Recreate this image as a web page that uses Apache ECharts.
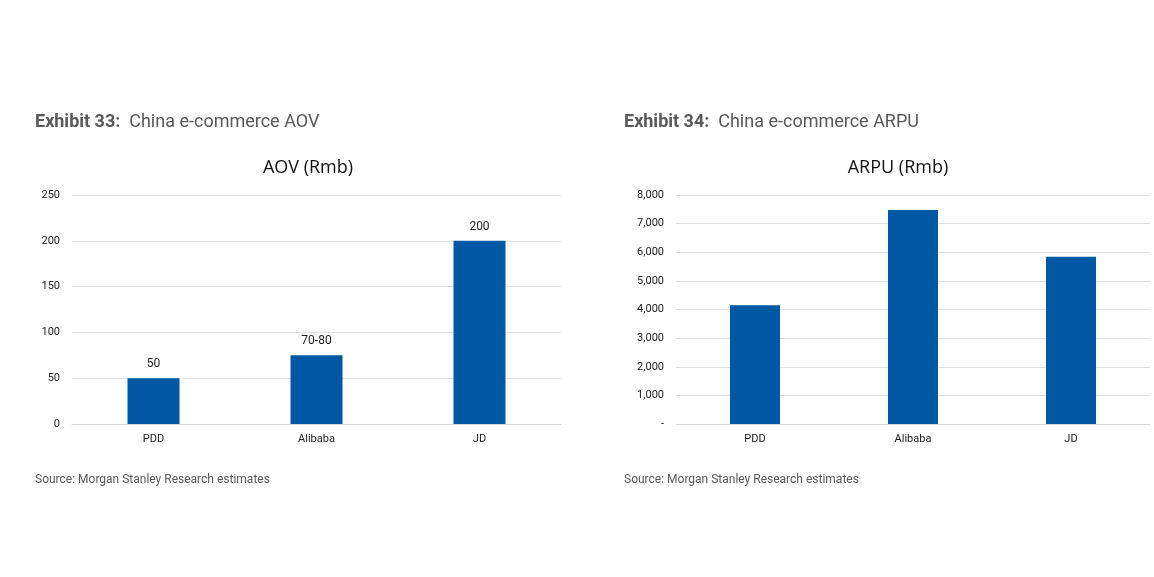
<!DOCTYPE html><html><head><meta charset="utf-8">
<script src="https://cdn.jsdelivr.net/npm/echarts@6/dist/echarts.min.js"></script>
<style>html,body{margin:0;background:#fff}#c{width:1154px;height:577px}</style></head><body><div id="c"></div><script>
const categories=['PDD','Alibaba','JD'];
const aovValues=[50,75,200];
const aovLabels=['50','70-80','200'];
const arpuValues=[4150,7480,5840];
const F='Roboto';
const chart=echarts.init(document.getElementById('c'));
const grey='#595959';
function xa(i){return {type:'category',gridIndex:i,data:categories,axisTick:{show:false},axisLine:{lineStyle:{color:'#d9d9d9'}},axisLabel:{color:'#222',fontSize:11,fontFamily:F,margin:10}};}
function ya(i,max,interval,fmt){return {type:'value',gridIndex:i,min:0,max:max,interval:interval,axisLabel:{color:'#222',fontSize:11,fontFamily:F,formatter:fmt,margin:12},splitLine:{lineStyle:{color:'#e0e0e0'}}};}
chart.setOption({
 animation:false,
 title:[
  {text:'{b|Exhibit 33:}  China e-commerce AOV',left:30,top:108,textStyle:{fontSize:18,fontWeight:'normal',color:grey,fontFamily:F,rich:{b:{fontSize:18,fontWeight:'bold',color:grey,fontFamily:F}}}},
  {text:'{b|Exhibit 34:}  China e-commerce ARPU',left:619,top:108,textStyle:{fontSize:18,fontWeight:'normal',color:grey,fontFamily:F,rich:{b:{fontSize:18,fontWeight:'bold',color:grey,fontFamily:F}}}},
  {text:'AOV (Rmb)',left:303,textAlign:'center',top:154,textStyle:{fontSize:18,fontWeight:'normal',color:'#111',fontFamily:'Open Sans'}},
  {text:'ARPU (Rmb)',left:893,textAlign:'center',top:154,textStyle:{fontSize:18,fontWeight:'normal',color:'#111',fontFamily:'Open Sans'}},
  {text:'Source: Morgan Stanley Research estimates',left:30,top:469,textStyle:{fontSize:12,fontWeight:'normal',color:grey,fontFamily:F}},
  {text:'Source: Morgan Stanley Research estimates',left:619,top:469,textStyle:{fontSize:12,fontWeight:'normal',color:grey,fontFamily:F}}
 ],
 grid:[{left:72,width:489,top:195,height:229},{left:676,width:474,top:195,height:229}],
 xAxis:[xa(0),xa(1)],
 yAxis:[ya(0,250,50),ya(1,8000,1000,v=>v===0?'-':v.toLocaleString('en-US'))],
 series:[
  {type:'bar',xAxisIndex:0,yAxisIndex:0,data:aovValues,barWidth:52,itemStyle:{color:'#0057a3'},
   label:{show:true,position:'top',distance:8,color:'#222',fontSize:12,fontFamily:F,formatter:p=>aovLabels[p.dataIndex]}},
  {type:'bar',xAxisIndex:1,yAxisIndex:1,data:arpuValues,barWidth:50,itemStyle:{color:'#0057a3'}}
 ]
});
</script></body></html>
